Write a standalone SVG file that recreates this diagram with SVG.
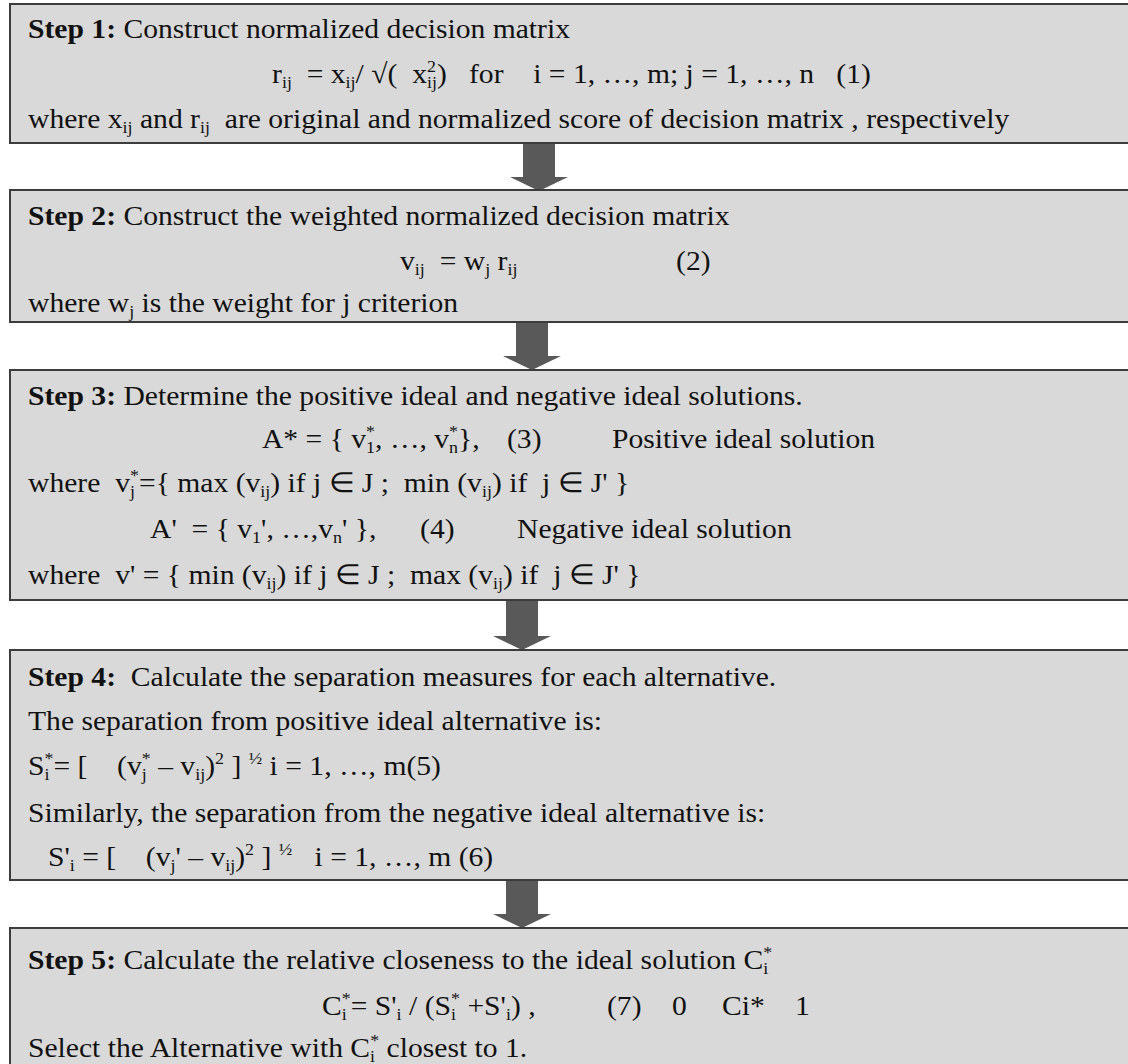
<svg xmlns="http://www.w3.org/2000/svg" width="1128" height="1064" viewBox="0 0 1128 1064">
<style>
.box{fill:#d9d9d9;stroke:#3c3c3c;stroke-width:2}
.arr{fill:#595959}
text{font-family:"Liberation Serif","Times New Roman",serif;font-size:28px;fill:#111111;white-space:pre}
.b{font-weight:bold}
.sub{font-size:17px;baseline-shift:-5px}
.sup{font-size:17px;baseline-shift:11px}
</style>
<rect width="1128" height="1064" fill="#ffffff"/>
<g id="connectors">
<path class="arr" d="M523 144 H555 V177 H568 L539 191 L510 177 H523 Z"/>
<path class="arr" d="M516 323 H548 V356 H561 L532 370 L503 356 H516 Z"/>
<path class="arr" d="M506 601 H538 V636 H551 L522 650 L493 636 H506 Z"/>
<path class="arr" d="M506 881 H538 V914 H551 L522 928 L493 914 H506 Z"/>
</g>
<g id="step1">
<rect class="box" x="10" y="4" width="1125" height="139"/>
<g transform="scale(1.058,1)">
<text x="26.47" y="38"><tspan class="b">Step 1:</tspan> Construct normalized decision matrix</text>
<text x="257.1" y="83">r<tspan class="sub">ij</tspan>  = x<tspan class="sub">ij</tspan>/ √(  x<tspan class="sup">2</tspan><tspan class="sub" dx="-8.5">ij</tspan>)   for    i = 1, …, m; j = 1, …, n   (1)</text>
<text x="26.47" y="128">where x<tspan class="sub">ij</tspan> and r<tspan class="sub">ij</tspan>  are original and normalized score of decision matrix , respectively</text>
</g>
</g>
<g id="step2">
<rect class="box" x="10" y="190" width="1125" height="132"/>
<g transform="scale(1.058,1)">
<text x="26.47" y="225"><tspan class="b">Step 2:</tspan> Construct the weighted normalized decision matrix</text>
<text x="378.1" y="270">v<tspan class="sub">ij</tspan>  = w<tspan class="sub">j</tspan> r<tspan class="sub">ij</tspan></text>
<text x="639" y="270">(2)</text>
<text x="26.47" y="312">where w<tspan class="sub">j</tspan> is the weight for j criterion</text>
</g>
</g>
<g id="step3">
<rect class="box" x="10" y="370" width="1125" height="230"/>
<g transform="scale(1.058,1)">
<text x="26.47" y="405"><tspan class="b">Step 3:</tspan> Determine the positive ideal and negative ideal solutions.</text>
<text x="247.6" y="448">A* = { v<tspan class="sub">1</tspan><tspan class="sup" dx="-8.5">*</tspan>, …, v<tspan class="sub">n</tspan><tspan class="sup" dx="-8.5">*</tspan>},</text>
<text x="479.2" y="448">(3)</text>
<text x="578.4" y="448">Positive ideal solution</text>
<text x="26.47" y="492">where  v<tspan class="sub">j</tspan><tspan class="sup" dx="-4.7">*</tspan>={ max (v<tspan class="sub">ij</tspan>) if j ∈ J ;  min (v<tspan class="sub">ij</tspan>) if  j ∈ J' }</text>
<text x="141.8" y="538">A'  = { v<tspan class="sub">1</tspan>', …,v<tspan class="sub">n</tspan>' },</text>
<text x="397" y="538">(4)</text>
<text x="488.7" y="538">Negative ideal solution</text>
<text x="26.47" y="584">where  v' = { min (v<tspan class="sub">ij</tspan>) if j ∈ J ;  max (v<tspan class="sub">ij</tspan>) if  j ∈ J' }</text>
</g>
</g>
<g id="step4">
<rect class="box" x="10" y="650" width="1125" height="230"/>
<g transform="scale(1.058,1)">
<text x="26.47" y="686"><tspan class="b">Step 4:</tspan>  Calculate the separation measures for each alternative.</text>
<text x="26.47" y="730">The separation from positive ideal alternative is:</text>
<text x="26.47" y="775">S<tspan class="sub">i</tspan><tspan class="sup" dx="-4.7">*</tspan>= [    (v<tspan class="sub">j</tspan><tspan class="sup" dx="-4.7">*</tspan> – v<tspan class="sub">ij</tspan>)<tspan class="sup">2</tspan> ] <tspan class="sup">½</tspan> i = 1, …, m(5)</text>
<text x="26.47" y="822">Similarly, the separation from the negative ideal alternative is:</text>
<text x="45.4" y="866">S'<tspan class="sub">i</tspan> = [    (v<tspan class="sub">j</tspan>' – v<tspan class="sub">ij</tspan>)<tspan class="sup">2</tspan> ] <tspan class="sup">½</tspan>   i = 1, …, m (6)</text>
</g>
</g>
<g id="step5">
<rect class="box" x="10" y="928" width="1125" height="145"/>
<g transform="scale(1.058,1)">
<text x="26.47" y="969"><tspan class="b">Step 5:</tspan> Calculate the relative closeness to the ideal solution C<tspan class="sub">i</tspan><tspan class="sup" dx="-4.7">*</tspan></text>
<text x="304.3" y="1015">C<tspan class="sub">i</tspan><tspan class="sup" dx="-4.7">*</tspan>= S'<tspan class="sub">i</tspan> / (S<tspan class="sub">i</tspan><tspan class="sup" dx="-4.7">*</tspan> +S'<tspan class="sub">i</tspan>) ,</text>
<text x="573.7" y="1015">(7)</text>
<text x="635.2" y="1015">0</text>
<text x="682.4" y="1015">Ci*</text>
<text x="751.4" y="1015">1</text>
<text x="26.47" y="1057">Select the Alternative with C<tspan class="sub">i</tspan><tspan class="sup" dx="-4.7">*</tspan> closest to 1.</text>
</g>
</g>
</svg>
